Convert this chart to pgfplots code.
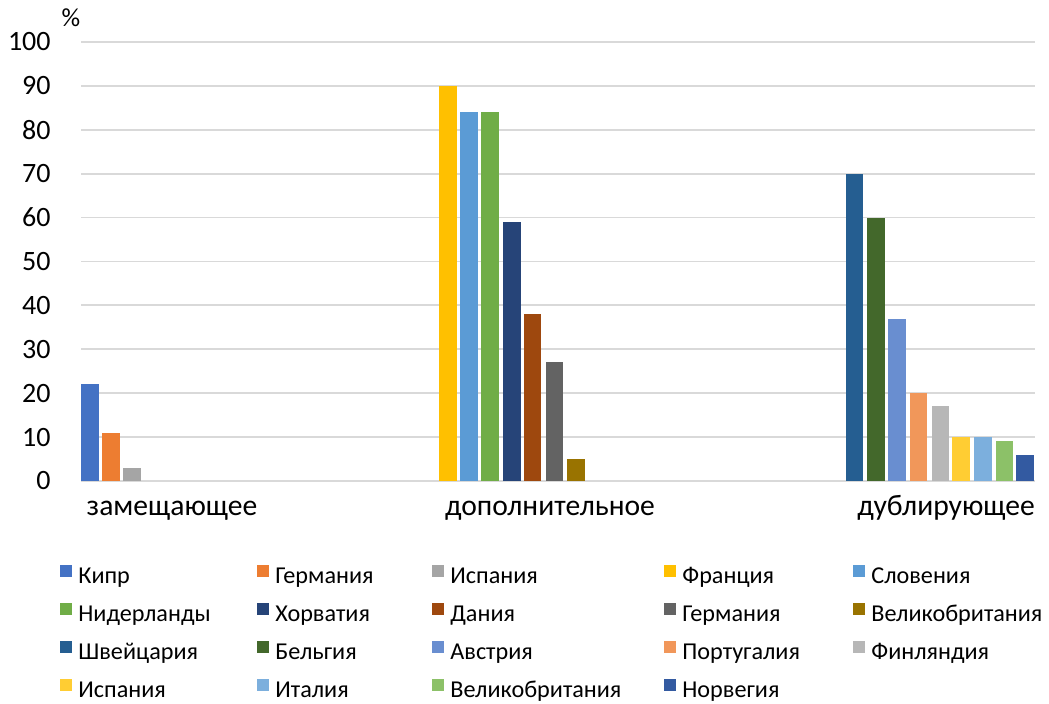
\documentclass[border=0pt]{standalone}
\usepackage{pgfplots}
\pgfplotsset{compat=1.18}
\usepackage{fontspec}
\setmainfont{Carlito}
\definecolor{c1}{HTML}{4472C4}
\definecolor{c2}{HTML}{ED7D31}
\definecolor{c3}{HTML}{A5A5A5}
\definecolor{c4}{HTML}{FFC000}
\definecolor{c5}{HTML}{5B9BD5}
\definecolor{c6}{HTML}{70AD47}
\definecolor{c7}{HTML}{264478}
\definecolor{c8}{HTML}{9E480E}
\definecolor{c9}{HTML}{636363}
\definecolor{c10}{HTML}{997300}
\definecolor{c11}{HTML}{255E91}
\definecolor{c12}{HTML}{43682B}
\definecolor{c13}{HTML}{698ED0}
\definecolor{c14}{HTML}{F1975A}
\definecolor{c15}{HTML}{B7B7B7}
\definecolor{c16}{HTML}{FFCD33}
\definecolor{c17}{HTML}{7CAFDD}
\definecolor{c18}{HTML}{8CC168}
\definecolor{c19}{HTML}{335AA1}
\definecolor{gridc}{HTML}{D9D9D9}
\newcommand\LA[1]{\makebox[89.3pt][l]{#1}}
\newcommand\LB[1]{\makebox[78.3pt][l]{#1}}
\newcommand\LC[1]{\makebox[106.8pt][l]{#1}}
\newcommand\LD[1]{\makebox[85.3pt][l]{#1}}
\newcommand\LE[1]{\makebox[86pt][l]{#1}}
\begin{document}
\begin{tikzpicture}
\useasboundingbox (0,0) rectangle (524.5pt,352pt);
\begin{axis}[
  at={(40.5pt,111.5pt)}, anchor=south west,
  scale only axis, width=477pt, height=219.5pt,
  xmin=81, xmax=1035, ymin=0, ymax=100,
  ybar, bar width=17.7,
  axis line style={draw=none},
  major tick length=0pt,
  ytick={0,10,...,100},
  ymajorgrids, grid style={gridc, line width=0.9pt},
  xtick={172,550,946},
  xticklabels={замещающее,дополнительное,дублирующее},
  xticklabel style={anchor=base, inner sep=0pt, yshift=-17.5pt, font=\fontsize{14.8}{17}\selectfont},
  yticklabel style={anchor=east, inner sep=0pt, xshift=-15pt, font=\fontsize{14}{16}\selectfont},
  /pgf/number format/assume math mode=true,
  clip=false,
  legend image code/.code={\fill[#1] (0pt,-0.4pt) rectangle (6.2pt,5.8pt);},
  legend columns=5,
  legend style={at={(0,0)}, anchor=north west, xshift=-10.5pt, yshift=-38.3pt,
    draw=none, inner sep=0pt, outer sep=0pt, row sep=0pt,
    cells={anchor=base west},
    nodes={inner sep=0pt, outer sep=0pt, text height=13pt, text depth=6pt},
    font=\fontsize{12.1}{14}\selectfont,
    /tikz/every odd column/.append style={column sep=3pt},
    /tikz/every even column/.append style={column sep=0pt}},
  legend cell align=left,
]
\addplot[bar shift=0pt, fill=c1, draw=none] coordinates {(90,22)};
\addlegendentry{\LA{Кипр}}
\addplot[bar shift=0pt, fill=c2, draw=none] coordinates {(111.3,11)};
\addlegendentry{\LB{Германия}}
\addplot[bar shift=0pt, fill=c3, draw=none] coordinates {(132.3,3)};
\addlegendentry{\LC{Испания}}
\addplot[bar shift=0pt, fill=c4, draw=none] coordinates {(448,90)};
\addlegendentry{\LD{Франция}}
\addplot[bar shift=0pt, fill=c5, draw=none] coordinates {(469,84)};
\addlegendentry{\LE{Словения}}
\addplot[bar shift=0pt, fill=c6, draw=none] coordinates {(490,84)};
\addlegendentry{\LA{Нидерланды}}
\addplot[bar shift=0pt, fill=c7, draw=none] coordinates {(512,59)};
\addlegendentry{\LB{Хорватия}}
\addplot[bar shift=0pt, fill=c8, draw=none] coordinates {(532.5,38)};
\addlegendentry{\LC{Дания}}
\addplot[bar shift=0pt, fill=c9, draw=none] coordinates {(554.5,27)};
\addlegendentry{\LD{Германия}}
\addplot[bar shift=0pt, fill=c10, draw=none] coordinates {(576,5)};
\addlegendentry{\LE{Великобритания}}
\addplot[bar shift=0pt, fill=c11, draw=none] coordinates {(854.5,70)};
\addlegendentry{\LA{Швейцария}}
\addplot[bar shift=0pt, fill=c12, draw=none] coordinates {(876,60)};
\addlegendentry{\LB{Бельгия}}
\addplot[bar shift=0pt, fill=c13, draw=none] coordinates {(897,37)};
\addlegendentry{\LC{Австрия}}
\addplot[bar shift=0pt, fill=c14, draw=none] coordinates {(918.5,20)};
\addlegendentry{\LD{Португалия}}
\addplot[bar shift=0pt, fill=c15, draw=none] coordinates {(940.5,17)};
\addlegendentry{\LE{Финляндия}}
\addplot[bar shift=0pt, fill=c16, draw=none] coordinates {(961,10)};
\addlegendentry{\LA{Испания}}
\addplot[bar shift=0pt, fill=c17, draw=none] coordinates {(983,10)};
\addlegendentry{\LB{Италия}}
\addplot[bar shift=0pt, fill=c18, draw=none] coordinates {(1004.5,9)};
\addlegendentry{\LC{Великобритания}}
\addplot[bar shift=0pt, fill=c19, draw=none] coordinates {(1025,6)};
\addlegendentry{\LD{Норвегия}}
\end{axis}
\node[font=\fontsize{13}{15}\selectfont, inner sep=0pt] at (35.5pt,343pt) {\%};
\end{tikzpicture}
\end{document}
